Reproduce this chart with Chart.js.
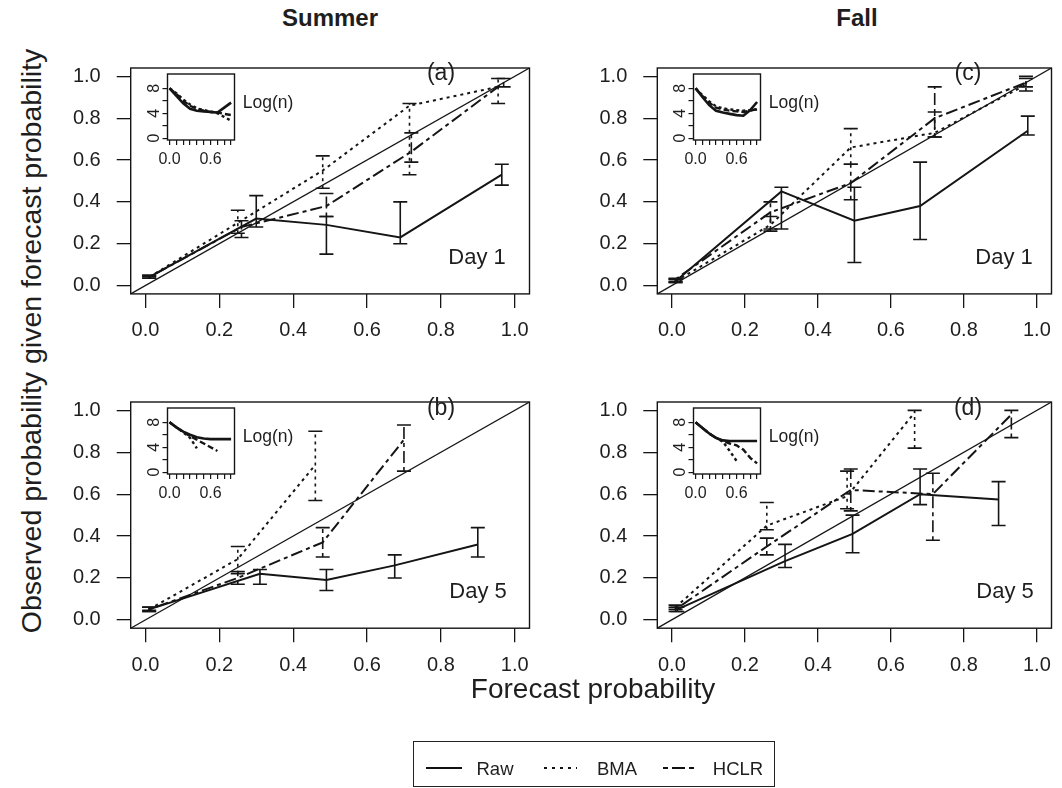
<!DOCTYPE html>
<html>
<head>
<meta charset="utf-8">
<script src="https://cdn.jsdelivr.net/npm/chart.js@4.4.1/dist/chart.umd.min.js"></script>
<style>
html,body{margin:0;padding:0;background:#fff;overflow:hidden;}
body{width:1062px;height:788px;position:relative;font-family:"Liberation Sans",Arial,Helvetica,sans-serif;color:#1e1e1e;}
canvas{position:absolute;}
.t{position:absolute;transform:translate(-50%,-50%);line-height:1;white-space:nowrap;}
</style>
</head>
<body>
<canvas id="pa"></canvas><canvas id="pc"></canvas><canvas id="pb"></canvas><canvas id="pd"></canvas>
<canvas id="ia"></canvas><canvas id="ic"></canvas><canvas id="ib"></canvas><canvas id="id"></canvas>

<div class="t" style="left:330px;top:18px;font-size:24px;font-weight:bold">Summer</div>
<div class="t" style="left:857px;top:18px;font-size:24px;font-weight:bold">Fall</div>
<div class="t" style="left:31px;top:341px;font-size:28.5px;transform:translate(-50%,-50%) rotate(-90deg)">Observed probability given forecast probability</div>
<div class="t" style="left:593px;top:689px;font-size:28px">Forecast probability</div>

<div class="t" style="left:441px;top:72px;font-size:23px">(a)</div>
<div class="t" style="left:477px;top:257px;font-size:22px">Day 1</div>
<div class="t" style="left:268px;top:103px;font-size:17.5px">Log(n)</div>

<div class="t" style="left:968px;top:72px;font-size:23px">(c)</div>
<div class="t" style="left:1004px;top:257px;font-size:22px">Day 1</div>
<div class="t" style="left:794px;top:103px;font-size:17.5px">Log(n)</div>

<div class="t" style="left:441px;top:407px;font-size:23px">(b)</div>
<div class="t" style="left:478px;top:591px;font-size:22px">Day 5</div>
<div class="t" style="left:268px;top:437px;font-size:17.5px">Log(n)</div>

<div class="t" style="left:968px;top:407px;font-size:23px">(d)</div>
<div class="t" style="left:1005px;top:591px;font-size:22px">Day 5</div>
<div class="t" style="left:794px;top:437px;font-size:17.5px">Log(n)</div>

<div style="position:absolute;left:413px;top:741px;width:362px;height:46px;border:1.3px solid #222;box-sizing:border-box"></div>
<svg style="position:absolute;left:0;top:0" width="1062" height="788">
  <line x1="426" y1="768" x2="462" y2="768" stroke="#111" stroke-width="2"/>
  <line x1="544" y1="768" x2="577" y2="768" stroke="#111" stroke-width="2" stroke-dasharray="3,5"/>
  <line x1="663" y1="768" x2="698" y2="768" stroke="#111" stroke-width="2" stroke-dasharray="5,4,13,4"/>
</svg>
<div class="t" style="left:495px;top:769px;font-size:18.5px">Raw</div>
<div class="t" style="left:617px;top:769px;font-size:18.5px">BMA</div>
<div class="t" style="left:738px;top:769px;font-size:18.5px">HCLR</div>

<script>
// ---------------- data ----------------
const mainTicks = [0, 0.2, 0.4, 0.6, 0.8, 1.0];
const refLine = [-0.04, 1.04];
const insetXTicks = [0, 0.1, 0.2, 0.3, 0.4, 0.5, 0.6, 0.7, 0.8, 0.9];
const insetXLabels = [0, 0.6];
const insetYTicks = [0, 2, 4, 6, 8];
const insetYLabels = [0, 4, 8];

// (a) Summer, Day 1
const aRawX  = [0.01, 0.30, 0.49, 0.69, 0.965];
const aRawY  = [0.04, 0.32, 0.29, 0.23, 0.53];
const aRawLo = [0.035, 0.28, 0.15, 0.20, 0.48];
const aRawHi = [0.045, 0.43, 0.33, 0.40, 0.58];
const aBmaX  = [0.01, 0.25, 0.48, 0.715, 0.955];
const aBmaY  = [0.04, 0.30, 0.55, 0.86, 0.95];
const aBmaLo = [0.035, 0.25, 0.465, 0.53, 0.87];
const aBmaHi = [0.05, 0.36, 0.62, 0.87, 0.99];
const aHclX  = [0.01, 0.26, 0.49, 0.72, 0.97];
const aHclY  = [0.04, 0.28, 0.38, 0.64, 0.97];
const aHclLo = [0.035, 0.23, 0.33, 0.59, 0.95];
const aHclHi = [0.045, 0.31, 0.44, 0.73, 0.99];

// (c) Fall, Day 1
const cRawX  = [0.01, 0.30, 0.50, 0.68, 0.975];
const cRawY  = [0.02, 0.45, 0.31, 0.38, 0.74];
const cRawLo = [0.015, 0.27, 0.11, 0.22, 0.72];
const cRawHi = [0.03, 0.47, 0.47, 0.59, 0.81];
const cBmaX  = [0.01, 0.27, 0.49, 0.72, 0.97];
const cBmaY  = [0.02, 0.29, 0.66, 0.73, 0.96];
const cBmaLo = [0.015, 0.27, 0.58, 0.71, 0.93];
const cBmaHi = [0.03, 0.33, 0.75, 0.83, 1.0];
const cHclX  = [0.01, 0.27, 0.49, 0.72, 0.97];
const cHclY  = [0.03, 0.35, 0.49, 0.80, 0.97];
const cHclLo = [0.02, 0.26, 0.41, 0.71, 0.95];
const cHclHi = [0.035, 0.40, 0.58, 0.95, 0.99];

// (b) Summer, Day 5
const bRawX  = [0.01, 0.31, 0.49, 0.675, 0.90];
const bRawY  = [0.05, 0.22, 0.19, 0.26, 0.36];
const bRawLo = [0.045, 0.17, 0.14, 0.20, 0.30];
const bRawHi = [0.06, 0.24, 0.24, 0.31, 0.44];
const bBmaX  = [0.01, 0.25, 0.46];
const bBmaY  = [0.05, 0.29, 0.74];
const bBmaLo = [0.04, 0.22, 0.57];
const bBmaHi = [0.06, 0.35, 0.90];
const bHclX  = [0.01, 0.25, 0.48, 0.70];
const bHclY  = [0.05, 0.20, 0.37, 0.86];
const bHclLo = [0.04, 0.17, 0.30, 0.71];
const bHclHi = [0.06, 0.23, 0.44, 0.93];

// (d) Fall, Day 5
const dRawX  = [0.015, 0.31, 0.495, 0.68, 0.895];
const dRawY  = [0.05, 0.28, 0.41, 0.60, 0.575];
const dRawLo = [0.04, 0.25, 0.32, 0.55, 0.45];
const dRawHi = [0.06, 0.36, 0.50, 0.72, 0.66];
const dBmaX  = [0.01, 0.26, 0.48, 0.665];
const dBmaY  = [0.06, 0.45, 0.59, 0.99];
const dBmaLo = [0.05, 0.43, 0.53, 0.82];
const dBmaHi = [0.07, 0.56, 0.71, 1.0];
const dHclX  = [0.01, 0.26, 0.49, 0.715, 0.93];
const dHclY  = [0.05, 0.35, 0.62, 0.60, 0.98];
const dHclLo = [0.04, 0.31, 0.52, 0.38, 0.87];
const dHclHi = [0.06, 0.39, 0.72, 0.70, 1.0];

// insets: log(n) against forecast probability
const iaX    = [0, 0.1, 0.2, 0.3, 0.4, 0.5, 0.6, 0.7, 0.8, 0.9];
const iaRaw  = [8.0, 6.8, 5.6, 4.7, 4.4, 4.3, 4.2, 4.1, 4.9, 5.7];
const iaBma  = [8.0, 7.2, 6.2, 5.4, 4.8, 4.5, 4.3, 4.0, 3.4, 2.8];
const iaHcl  = [8.0, 7.1, 6.0, 5.2, 4.7, 4.4, 4.2, 4.1, 3.9, 3.7];
const icX    = [0, 0.1, 0.2, 0.3, 0.4, 0.5, 0.6, 0.7, 0.8, 0.9];
const icRaw  = [8.0, 6.6, 5.3, 4.4, 4.1, 3.9, 3.7, 3.6, 4.5, 5.8];
const icBma  = [8.0, 6.9, 5.9, 5.1, 4.8, 4.6, 4.5, 4.4, 4.5, 4.6];
const icHcl  = [8.0, 6.8, 5.7, 4.9, 4.6, 4.4, 4.3, 4.2, 4.4, 4.7];
const ibRawX = [0, 0.1, 0.2, 0.3, 0.4, 0.5, 0.6, 0.7, 0.8, 0.9];
const ibRaw  = [8.0, 7.2, 6.5, 6.0, 5.6, 5.4, 5.3, 5.3, 5.3, 5.3];
const ibBmaX = [0, 0.1, 0.2, 0.3, 0.4];
const ibBma  = [8.0, 7.2, 6.4, 5.5, 3.8];
const ibHclX = [0, 0.1, 0.2, 0.3, 0.4, 0.5, 0.6, 0.7];
const ibHcl  = [8.0, 7.2, 6.4, 5.8, 5.2, 4.6, 4.0, 3.4];
const idRawX = [0, 0.1, 0.2, 0.3, 0.4, 0.5, 0.6, 0.7, 0.8, 0.9];
const idRaw  = [8.0, 7.1, 6.2, 5.5, 5.1, 5.0, 5.0, 5.0, 5.0, 5.0];
const idBmaX = [0, 0.1, 0.2, 0.3, 0.4, 0.5, 0.6];
const idBma  = [8.0, 7.1, 6.2, 5.5, 4.9, 3.4, 1.8];
const idHclX = [0, 0.1, 0.2, 0.3, 0.4, 0.5, 0.6, 0.7, 0.8, 0.9];
const idHcl  = [8.0, 7.1, 6.2, 5.5, 5.0, 4.6, 4.3, 3.6, 2.3, 1.4];

// ---------------- rendering ----------------
const FAMILY = "'Liberation Sans', Arial, Helvetica, sans-serif";
const INK = '#151515';
Chart.defaults.font.family = FAMILY;
Chart.defaults.color = '#1e1e1e';

const STYLE = {
  ref:  {dash: [], w: 1.3},
  raw:  {dash: [], w: 2},
  bma:  {dash: [3, 4], w: 2},
  hclr: {dash: [4, 4, 12, 4], w: 2}
};
const ISTYLE = {
  raw:  {dash: [], w: 2.6},
  bma:  {dash: [3, 3], w: 2.4},
  hclr: {dash: [6, 3], w: 2.4}
};

function pts(xs, ys) { return xs.map((x, i) => ({x: x, y: ys[i]})); }
function line(label, xs, ys, st, lo, hi) {
  return {label: label, data: pts(xs, ys), borderColor: INK, borderWidth: st.w, borderDash: st.dash,
          pointRadius: 0, showLine: true, fill: false, tension: 0, errLo: lo, errHi: hi};
}

const frame = {
  id: 'frame',
  afterDatasetsDraw(chart) {
    const a = chart.chartArea, ctx = chart.ctx;
    ctx.save(); ctx.strokeStyle = INK; ctx.lineWidth = 1.4; ctx.setLineDash([]);
    ctx.strokeRect(a.left, a.top, a.right - a.left, a.bottom - a.top);
    ctx.restore();
  }
};
const errorBars = {
  id: 'errorBars',
  afterDatasetsDraw(chart) {
    const ctx = chart.ctx, xs = chart.scales.x, ys = chart.scales.y;
    chart.data.datasets.forEach(ds => {
      if (!ds.errLo) return;
      ctx.save();
      ctx.strokeStyle = ds.borderColor; ctx.lineWidth = 1.6;
      ds.data.forEach((p, i) => {
        const px = xs.getPixelForValue(p.x);
        const y1 = ys.getPixelForValue(ds.errLo[i]), y2 = ys.getPixelForValue(ds.errHi[i]);
        ctx.setLineDash(ds.borderDash);
        ctx.beginPath(); ctx.moveTo(px, y1); ctx.lineTo(px, y2); ctx.stroke();
        ctx.setLineDash([]);
        ctx.beginPath();
        ctx.moveTo(px - 7, y1); ctx.lineTo(px + 7, y1);
        ctx.moveTo(px - 7, y2); ctx.lineTo(px + 7, y2);
        ctx.stroke();
      });
      ctx.restore();
    });
  }
};
const rotatedYLabels = {
  id: 'rotatedYLabels',
  afterDraw(chart) {
    const ctx = chart.ctx, ys = chart.scales.y, a = chart.chartArea;
    ctx.save();
    ctx.fillStyle = '#1e1e1e';
    ctx.font = '16px ' + FAMILY;
    ctx.textAlign = 'center'; ctx.textBaseline = 'middle';
    insetYLabels.forEach(v => {
      ctx.save();
      ctx.translate(a.left - 14, ys.getPixelForValue(v));
      ctx.rotate(-Math.PI / 2);
      ctx.fillText(String(v), 0, 1);
      ctx.restore();
    });
    ctx.restore();
  }
};

function place(id, rect) {
  const cv = document.getElementById(id);
  cv.width = rect.w; cv.height = rect.h;
  cv.style.left = rect.x + 'px'; cv.style.top = rect.y + 'px';
  return cv;
}

function mainPanel(id, rect, area, datasets) {
  const cv = place(id, rect);
  const yW = area.l - rect.x, padT = area.t - rect.y;
  const padR = rect.x + rect.w - area.r, xH = rect.y + rect.h - area.b;
  const axis = (vals, fitFn) => ({
    type: 'linear', min: refLine[0], max: refLine[1],
    afterBuildTicks: s => { s.ticks = vals.map(v => ({value: v})); },
    afterFit: fitFn,
    grid: {drawOnChartArea: false, drawTicks: true, tickLength: 14, color: INK, lineWidth: 1.3},
    border: {display: false},
    ticks: {callback: v => Number(v).toFixed(1), font: {size: 20, family: FAMILY}, color: '#1e1e1e',
            maxRotation: 0, minRotation: 0, autoSkip: false}
  });
  const xAx = axis(mainTicks, s => { s.height = xH; }); xAx.ticks.padding = 11;
  const yAx = axis(mainTicks, s => { s.width = yW; }); yAx.ticks.padding = 16;
  return new Chart(cv, {
    type: 'scatter',
    data: {datasets: datasets},
    options: {
      responsive: false, animation: false, devicePixelRatio: 1, events: [],
      layout: {padding: {left: 0, top: padT, right: padR, bottom: 0}},
      plugins: {legend: {display: false}, tooltip: {enabled: false}},
      scales: {x: xAx, y: yAx}
    },
    plugins: [frame, errorBars]
  });
}

function insetPanel(id, rect, area, datasets) {
  const cv = place(id, rect);
  const yW = area.l - rect.x, padT = area.t - rect.y;
  const padR = rect.x + rect.w - area.r, xH = rect.y + rect.h - area.b;
  return new Chart(cv, {
    type: 'scatter',
    data: {datasets: datasets},
    options: {
      responsive: false, animation: false, devicePixelRatio: 1, events: [],
      layout: {padding: {left: 0, top: padT, right: padR, bottom: 0}},
      plugins: {legend: {display: false}, tooltip: {enabled: false}},
      scales: {
        x: {type: 'linear', min: -0.03, max: 0.95,
            afterBuildTicks: s => { s.ticks = insetXTicks.map(v => ({value: v})); },
            afterFit: s => { s.height = xH; },
            grid: {drawOnChartArea: false, drawTicks: true, tickLength: 5, color: INK, lineWidth: 1.2},
            border: {display: false},
            ticks: {callback: v => insetXLabels.includes(v) ? Number(v).toFixed(1) : '',
                    font: {size: 16, family: FAMILY}, color: '#1e1e1e', padding: 5,
                    maxRotation: 0, minRotation: 0, autoSkip: false}},
        y: {type: 'linear', min: -0.3, max: 10.3,
            afterBuildTicks: s => { s.ticks = insetYTicks.map(v => ({value: v})); },
            afterFit: s => { s.width = yW; },
            grid: {drawOnChartArea: false, drawTicks: true, tickLength: 5, color: INK, lineWidth: 1.2},
            border: {display: false},
            ticks: {display: false}}
      }
    },
    plugins: [frame, rotatedYLabels]
  });
}

function refDs() { return line('ref', refLine, refLine, STYLE.ref); }

// main panels
const AREA_A = {l: 130.7, t: 53.8, r: 530.1, b: 293.9};
const AREA_C = {l: 657.3, t: 53.8, r: 1056.7, b: 293.9};
const AREA_B = {l: 130.7, t: 388.1, r: 530.1, b: 628.2};
const AREA_D = {l: 657.3, t: 388.1, r: 1056.7, b: 628.2};

mainPanel('pa', {x: 60, y: 40, w: 480, h: 310}, AREA_A, [
  refDs(),
  line('Raw', aRawX, aRawY, STYLE.raw, aRawLo, aRawHi),
  line('BMA', aBmaX, aBmaY, STYLE.bma, aBmaLo, aBmaHi),
  line('HCLR', aHclX, aHclY, STYLE.hclr, aHclLo, aHclHi)
]);
mainPanel('pc', {x: 586, y: 40, w: 476, h: 310}, AREA_C, [
  refDs(),
  line('Raw', cRawX, cRawY, STYLE.raw, cRawLo, cRawHi),
  line('BMA', cBmaX, cBmaY, STYLE.bma, cBmaLo, cBmaHi),
  line('HCLR', cHclX, cHclY, STYLE.hclr, cHclLo, cHclHi)
]);
mainPanel('pb', {x: 60, y: 374, w: 480, h: 310}, AREA_B, [
  refDs(),
  line('Raw', bRawX, bRawY, STYLE.raw, bRawLo, bRawHi),
  line('BMA', bBmaX, bBmaY, STYLE.bma, bBmaLo, bBmaHi),
  line('HCLR', bHclX, bHclY, STYLE.hclr, bHclLo, bHclHi)
]);
mainPanel('pd', {x: 586, y: 374, w: 476, h: 310}, AREA_D, [
  refDs(),
  line('Raw', dRawX, dRawY, STYLE.raw, dRawLo, dRawHi),
  line('BMA', dBmaX, dBmaY, STYLE.bma, dBmaLo, dBmaHi),
  line('HCLR', dHclX, dHclY, STYLE.hclr, dHclLo, dHclHi)
]);

// insets
insetPanel('ia', {x: 138, y: 66, w: 104, h: 104}, {l: 167.5, t: 74, r: 234.5, b: 140}, [
  line('Raw', iaX, iaRaw, ISTYLE.raw), line('BMA', iaX, iaBma, ISTYLE.bma), line('HCLR', iaX, iaHcl, ISTYLE.hclr)
]);
insetPanel('ic', {x: 664, y: 66, w: 104, h: 104}, {l: 693.5, t: 74, r: 760.5, b: 140}, [
  line('Raw', icX, icRaw, ISTYLE.raw), line('BMA', icX, icBma, ISTYLE.bma), line('HCLR', icX, icHcl, ISTYLE.hclr)
]);
insetPanel('ib', {x: 138, y: 400, w: 104, h: 104}, {l: 167.5, t: 408, r: 234.5, b: 474}, [
  line('Raw', ibRawX, ibRaw, ISTYLE.raw), line('BMA', ibBmaX, ibBma, ISTYLE.bma), line('HCLR', ibHclX, ibHcl, ISTYLE.hclr)
]);
insetPanel('id', {x: 664, y: 400, w: 104, h: 104}, {l: 693.5, t: 408, r: 760.5, b: 474}, [
  line('Raw', idRawX, idRaw, ISTYLE.raw), line('BMA', idBmaX, idBma, ISTYLE.bma), line('HCLR', idHclX, idHcl, ISTYLE.hclr)
]);
</script>
</body>
</html>
